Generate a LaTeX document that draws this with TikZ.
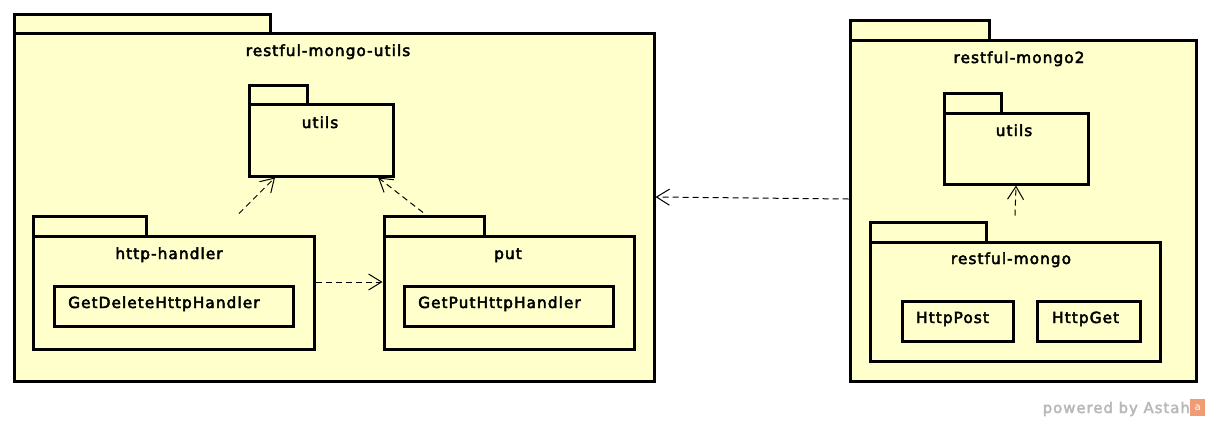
\documentclass[tikz,border=0pt]{standalone}
\usepackage{fontspec}
\setmainfont{DejaVu Sans}
\newfontfamily\astahfont[LetterSpace=7, FakeBold=3]{DejaVu Sans}
\usetikzlibrary{arrows.meta,fit,calc}
\definecolor{pkgfill}{RGB}{255,255,204}
\definecolor{wmgray}{RGB}{185,185,185}
\definecolor{wmorange}{RGB}{240,155,115}
\tikzset{
  box/.style={draw=black, line width=3pt, fill=pkgfill, inner sep=0pt},
  lbl/.style={font=\astahfont\fontsize{15.3}{18}\selectfont, anchor=base, inner sep=0pt},
  lblw/.style={lbl, anchor=base west},
  dep/.style={draw=black, line width=1pt, dash pattern=on 6pt off 4pt,
    -{Straight Barb[length=13pt,width=16pt,line width=1pt]}},
}
\begin{document}
\begin{tikzpicture}[x=1pt,y=-1pt]
\useasboundingbox (0,0) rectangle (1209,421);
% ---- left package restful-mongo-utils
\node[box, fit={(14,14) (270,33)}] (lpt) {};
\node[box, fit={(14,33) (654,381)}] (lp) {};
\node[lbl] (lpl) at (328,56) {restful-mongo-utils};
% utils
\node[box, fit={(249,85) (307,104)}] (ult) {};
\node[box, fit={(249,104) (393,176)}] (ul) {};
\node[lbl] (ull) at (320,128) {utils};
% http-handler
\node[box, fit={(33,216) (146,236)}] (hht) {};
\node[box, fit={(33,236) (314,349)}] (hh) {};
\node[lbl] (hhl) at (169,259) {http-handler};
\node[box, fit={(54,286) (293,326)}] (gdh) {};
\node[lblw] (gdhl) at (68,308) {GetDeleteHttpHandler};
% put
\node[box, fit={(384,216) (484,236)}] (putt) {};
\node[box, fit={(384,236) (634,349)}] (put) {};
\node[lbl] (putl) at (508,259) {put};
\node[box, fit={(404,286) (613,326)}] (gph) {};
\node[lblw] (gphl) at (418,308) {GetPutHttpHandler};
% ---- right package restful-mongo2
\node[box, fit={(850,20) (989,40)}] (rpt) {};
\node[box, fit={(850,40) (1196,381)}] (rp) {};
\node[lbl] (rpl) at (1019,63) {restful-mongo2};
% utils (right)
\node[box, fit={(944,93) (1001,113)}] (rut) {};
\node[box, fit={(944,113) (1088,184)}] (ru) {};
\node[lbl] (rul) at (1014,136) {utils};
% restful-mongo
\node[box, fit={(870,222) (986,242)}] (rmt) {};
\node[box, fit={(870,242) (1160,361)}] (rm) {};
\node[lbl] (rml) at (1011,264) {restful-mongo};
\node[box, fit={(902,301) (1013,341)}] (hpost) {};
\node[lblw] (hpostl) at (916,323) {HttpPost};
\node[box, fit={(1037,301) (1140,341)}] (hget) {};
\node[lblw] (hgetl) at (1052,323) {HttpGet};
% ---- dependencies
\draw[dep] ($(hh.north)+(65.5,-21)$) -- ($(ul.south)+(-46,0)$);
\draw[dep] ($(put.north)+(-86,-22)$) -- ($(ul.south)+(57,0)$);
\draw[dep] ($(hh.east)+(0,-10.5)$) -- ($(put.west)+(0,-10.5)$);
\draw[dep] ($(rm.north)+(0,-25)$) -- (ru.south);
\draw[dep] ($(rp.west)+(0,-11.5)$) -- ($(lp.east)+(0,-10)$);
% ---- watermark
\node[font=\astahfont\fontsize{14.8}{16}\selectfont, text=wmgray, anchor=base east, inner sep=0pt] (wm) at (1190,413) {powered by Astah};
\node[fill=wmorange, inner sep=0pt, minimum width=15pt, minimum height=17pt, anchor=west,
  font=\fontsize{10}{10}\selectfont, text=white] (logo) at ($(wm.east)+(0,-1.5)$) {a};
\end{tikzpicture}
\end{document}
